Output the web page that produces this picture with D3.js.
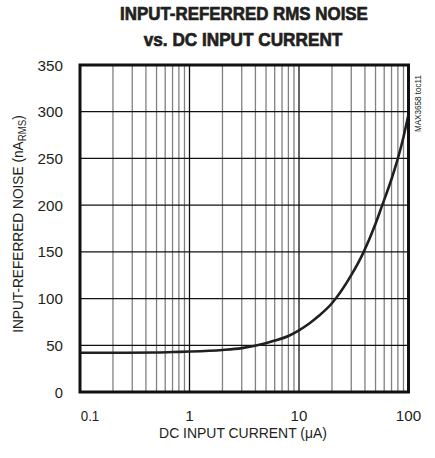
<!DOCTYPE html>
<html><head><meta charset="utf-8">
<script src="https://cdn.jsdelivr.net/npm/d3@7"></script>
<style>
body{margin:0;background:#fff;}
text{font-family:"Liberation Sans",Arial,sans-serif;fill:#231f20;}
</style></head>
<body>
<svg id="c" width="435" height="458"></svg>
<script>
const titleLines = ["INPUT-REFERRED RMS NOISE", "vs. DC INPUT CURRENT"];
const current = [0.1, 0.2, 0.5, 0.82, 1, 2, 3, 4.86, 6, 8, 10, 12.5, 15, 20, 30, 39, 50, 57.6, 70, 80, 90, 100];
const noise   = [42, 42, 42.3, 43, 43.3, 45, 47, 52, 55, 60, 66, 73.5, 81, 95, 125, 150, 180, 200, 228, 250, 273, 297];
const xTicks = [0.1, 1, 10, 100];
const xTickLabels = ["0.1", "1", "10", "100"];
const yTicks = [0, 50, 100, 150, 200, 250, 300, 350];

const svg = d3.select("#c");
const L = 80, R = 408.5, T = 65, B = 392;
const x = d3.scaleLog().domain([0.1, 100]).range([L, R]);
const y = d3.scaleLinear().domain([0, 350]).range([B, T]);

// helper: text fitted to a target width by horizontal scaling
function fitText(parent, cx, cy, rot, target, size, weight, build, anchor) {
  const g = parent.append("g");
  const t = g.append("text").attr("text-anchor", anchor || "middle")
    .style("font-size", size + "px").style("font-weight", weight || "normal");
  build(t);
  const w = t.node().getBBox().width || target;
  const s = target / w;
  g.attr("transform", `translate(${cx},${cy}) rotate(${rot}) scale(${s},1)`);
  return t;
}

// title
fitText(svg, 244, 20, 0, 248, 19, "bold", t => t.text(titleLines[0]))
  .attr("stroke", "#231f20").attr("stroke-width", 0.7);
fitText(svg, 243, 46, 0, 199, 19, "bold", t => t.text(titleLines[1]))
  .attr("stroke", "#231f20").attr("stroke-width", 0.7);

// vertical grid
const minor = [];
for (let d = 0.1; d < 100; d *= 10) for (let k = 2; k <= 9; k++) minor.push(d * k);
svg.append("g").selectAll("line").data(minor).join("line")
  .attr("x1", d => x(d)).attr("x2", d => x(d)).attr("y1", T).attr("y2", B)
  .attr("stroke", "#808080").attr("stroke-width", 1.3);
svg.append("g").selectAll("line").data([1, 10]).join("line")
  .attr("x1", d => x(d)).attr("x2", d => x(d)).attr("y1", T).attr("y2", B)
  .attr("stroke", "#111").attr("stroke-width", 1.3);
// horizontal grid
svg.append("g").selectAll("line").data(yTicks.slice(1, -1)).join("line")
  .attr("x1", L).attr("x2", R).attr("y1", d => y(d)).attr("y2", d => y(d))
  .attr("stroke", "#111").attr("stroke-width", 1.2);

// curve
const line = d3.line().x((d, i) => x(current[i])).y(d => y(d)).curve(d3.curveMonotoneX);
svg.append("path").datum(noise).attr("d", line).attr("fill", "none")
  .attr("stroke", "#231f20").attr("stroke-width", 2.6);

// frame
svg.append("rect").attr("x", L).attr("y", T).attr("width", R - L).attr("height", B - T)
  .attr("fill", "none").attr("stroke", "#111").attr("stroke-width", 3);

// y tick labels
yTicks.forEach(v => fitText(svg, 63, y(v) + 5.5, 0, String(v).length * 8.6, 15.5, "normal", t => t.text(v), "end"));
// x tick labels
const xLabelPos = [90, x(1), x(10), x(100)];
xTicks.forEach((v, i) => {
  const s = xTickLabels[i];
  fitText(svg, xLabelPos[i], 421, 0, s === "0.1" ? 18.5 : s.length * 8.6, 15.5, "normal", t => t.text(s));
});

// axis titles
fitText(svg, 243, 438, 0, 168, 15.5, "normal", t => t.text("DC INPUT CURRENT (\u03bcA)"));
fitText(svg, 23, 224, -90, 218, 15.5, "normal", t => {
  t.append("tspan").text("INPUT-REFERRED NOISE (nA");
  t.append("tspan").attr("dy", 3).style("font-size", "11px").text("RMS");
  t.append("tspan").attr("dy", -3).text(")");
});

// code
fitText(svg, 421, 132, -90, 57, 9.5, "normal", t => t.text("MAX3658 toc11"), "start");
</script>
</body></html>
